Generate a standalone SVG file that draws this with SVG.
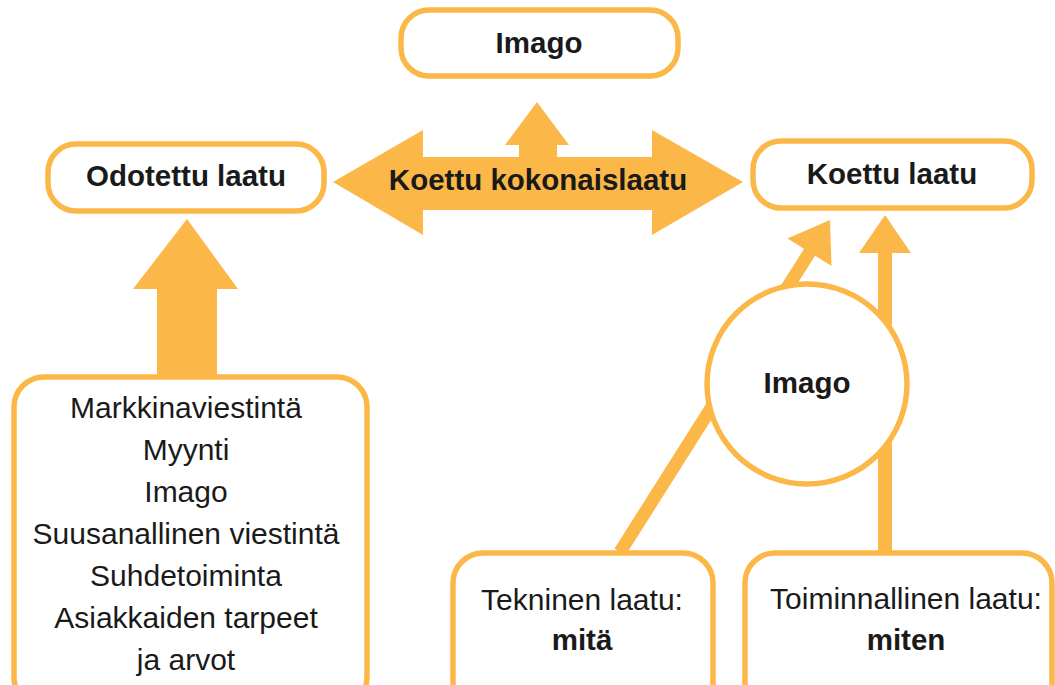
<svg xmlns="http://www.w3.org/2000/svg" width="1055" height="685" viewBox="0 0 1055 685">
<style>
.box{fill:#fff;stroke:#FBB848;stroke-width:5.5}
.arr{fill:#FBB848;stroke:none}
.ln{stroke:#FBB848;stroke-width:13;fill:none}
.b{font-family:"Liberation Sans",Arial,sans-serif;font-weight:bold;font-size:29.5px;fill:#1a1a1a;text-anchor:middle}
.r{font-family:"Liberation Sans",Arial,sans-serif;font-size:30px;fill:#1a1a1a;text-anchor:middle}
</style>
<rect width="1055" height="685" fill="#fff"/>
<g id="connectors">
<polygon class="arr" points="333,182 423,130 423,157 519,157 519,145 505,145 537,102 569,145 557,145 557,157 652,157 652,130 743,182 652,235 652,210 423,210 423,235"/>
<text class="b" x="538" y="190">Koettu kokonaislaatu</text>
<polygon class="arr" points="187,219 238,289 217,289 217,380 157,380 157,289 133,289"/>
<rect class="arr" x="878" y="250" width="14" height="305"/>
<polygon class="arr" points="885,215 859,253 911,253"/>
<line class="ln" x1="620" y1="552" x2="811" y2="250"/>
<polygon class="arr" points="830,220 787.5,238.5 831.5,266"/>
</g>
<g id="imago-top">
<rect class="box" x="401" y="10" width="277" height="66" rx="28"/>
<text class="b" x="539" y="53">Imago</text>
</g>
<g id="odotettu">
<rect class="box" x="48" y="144" width="276" height="67" rx="28"/>
<text class="b" x="186" y="186">Odotettu laatu</text>
</g>
<g id="koettu">
<rect class="box" x="753" y="141" width="279" height="67" rx="28"/>
<text class="b" x="892" y="184">Koettu laatu</text>
</g>
<g id="imago-circle">
<circle class="box" cx="807" cy="384" r="100" stroke-width="6"/>
<text class="b" x="807" y="393">Imago</text>
</g>
<g id="tekijat">
<rect class="box" x="14" y="377" width="353" height="330" rx="30"/>
<text class="r" x="186" y="418">Markkinaviestintä</text>
<text class="r" x="186" y="460">Myynti</text>
<text class="r" x="186" y="502">Imago</text>
<text class="r" x="186" y="544">Suusanallinen viestintä</text>
<text class="r" x="186" y="586">Suhdetoiminta</text>
<text class="r" x="186" y="628">Asiakkaiden tarpeet</text>
<text class="r" x="186" y="670">ja arvot</text>
</g>
<g id="tekninen">
<rect class="box" x="453" y="553" width="260" height="160" rx="30"/>
<text class="r" x="582" y="610">Tekninen laatu:</text>
<text class="b" x="582" y="650">mitä</text>
</g>
<g id="toiminnallinen">
<rect class="box" x="745" y="553" width="307" height="160" rx="30"/>
<text class="r" x="906" y="609">Toiminnallinen laatu:</text>
<text class="b" x="906" y="650">miten</text>
</g>
</svg>
